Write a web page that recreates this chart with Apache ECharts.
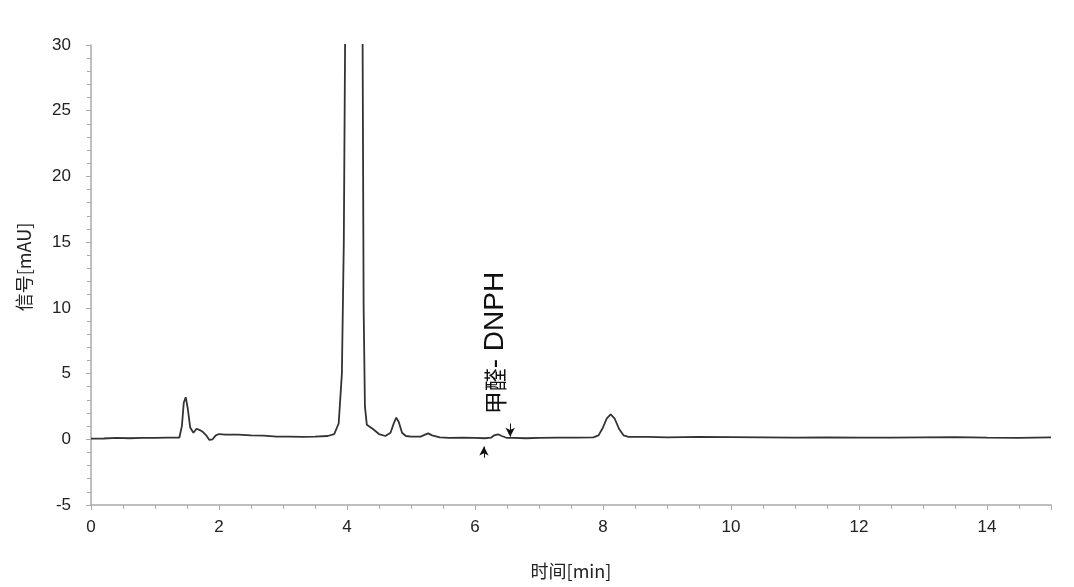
<!DOCTYPE html>
<html>
<head>
<meta charset="utf-8">
<script src="https://cdn.jsdelivr.net/npm/echarts@6/dist/echarts.min.js"></script>
<style>html,body{margin:0;padding:0;background:#fff}#c{width:1074px;height:587px}</style>
</head>
<body>
<div id="c"></div>
<script>
var times = [0,0.2,0.4,0.6,0.8,1.0,1.2,1.38,1.42,1.45,1.48,1.51,1.55,1.6,1.65,1.7,1.75,1.8,1.85,1.9,1.95,2.0,2.1,2.3,2.5,2.7,2.9,3.1,3.3,3.5,3.7,3.8,3.87,3.92,3.95,3.97,4.0,4.1,4.2,4.24,4.26,4.28,4.31,4.4,4.5,4.6,4.68,4.73,4.77,4.81,4.86,4.92,5.0,5.15,5.22,5.27,5.33,5.45,5.6,5.8,6.0,6.15,6.25,6.3,6.36,6.42,6.5,6.6,6.8,7.0,7.3,7.6,7.85,7.93,8.0,8.06,8.12,8.18,8.25,8.32,8.4,8.7,9.0,9.5,10,10.5,11,11.5,12,12.5,13,13.5,14,14.5,15];
var signal = [0.05,0.06,0.1,0.08,0.1,0.1,0.12,0.12,1.0,2.8,3.2,2.4,0.9,0.5,0.8,0.7,0.55,0.3,-0.05,0.0,0.3,0.4,0.35,0.35,0.3,0.28,0.2,0.2,0.18,0.2,0.25,0.4,1.2,5,15,30,70,150,80,35,10,2.5,1.1,0.8,0.4,0.25,0.5,1.2,1.65,1.3,0.5,0.25,0.2,0.2,0.35,0.45,0.3,0.15,0.1,0.12,0.1,0.08,0.12,0.3,0.38,0.25,0.1,0.1,0.08,0.1,0.12,0.12,0.15,0.3,0.9,1.6,1.9,1.6,0.8,0.3,0.18,0.18,0.15,0.18,0.17,0.15,0.13,0.15,0.13,0.12,0.15,0.17,0.12,0.1,0.15];
var xTicks = {min:0, max:15, interval:2};
var yTicks = {min:-5, max:30, interval:5};
var peakLabelCJK = '甲醛';
var peakLabelLatin = '- DNPH';
var labelPos = [6.31, 1.9];
var arrowStart = [[6.14,-1.4],[6.55,1.2]];
var arrowEnd = [[6.14,-0.55],[6.55,0.2]];

var chart = echarts.init(document.getElementById('c'));
var axisCol = '#aaaaaa';
var fnt = '"Liberation Sans", Arial, sans-serif';
chart.setOption({
  animation:false,
  grid:{left:91,right:23,top:45,bottom:82,outerBoundsMode:'none',containLabel:false},
  xAxis:{type:'value',min:xTicks.min,max:xTicks.max,interval:xTicks.interval,
    name:'时间[min]',nameLocation:'middle',nameGap:57,
    nameTextStyle:{fontSize:18,color:'#222',fontFamily:'"Noto Sans CJK SC", sans-serif'},
    axisLine:{show:true,onZero:false,lineStyle:{color:axisCol,width:1.5}},
    axisTick:{show:true,length:5,lineStyle:{color:axisCol}},
    minorTick:{show:true,splitNumber:4,length:4,lineStyle:{color:axisCol}},
    splitLine:{show:false},
    axisLabel:{fontSize:17,color:'#222',margin:14,fontFamily:fnt,showMaxLabel:false}},
  yAxis:{type:'value',min:yTicks.min,max:yTicks.max,interval:yTicks.interval,
    name:'信号[mAU]',nameLocation:'middle',nameGap:58,nameRotate:90,
    nameTextStyle:{fontSize:18,color:'#222',fontFamily:'"Noto Sans CJK SC", sans-serif',padding:[0,0,0,16]},
    axisLine:{show:true,onZero:false,lineStyle:{color:axisCol,width:1.5}},
    axisTick:{show:true,length:5,lineStyle:{color:axisCol}},
    minorTick:{show:true,splitNumber:5,length:4,lineStyle:{color:axisCol}},
    splitLine:{show:false},
    axisLabel:{fontSize:17,color:'#222',margin:20,fontFamily:fnt}},
  series:[{
    type:'line',showSymbol:false,symbol:'none',clip:true,
    data:times.map(function(t,i){return [t,signal[i]];}),
    lineStyle:{color:'#333333',width:1.8},
    markPoint:{symbol:'circle',symbolSize:0,
      data:[{coord:labelPos,label:{show:true,formatter:'{c|'+peakLabelCJK+'}{l|'+peakLabelLatin+'}',rotate:90,align:'left',verticalAlign:'middle',position:[0,0],
        color:'#111',
        rich:{c:{fontSize:23,color:'#111',fontFamily:'"Noto Sans CJK SC", sans-serif'},
              l:{fontSize:28,color:'#111',fontFamily:'"Liberation Sans Narrow", "Liberation Sans", Arial, sans-serif'}}}}]},
    markLine:{silent:true,symbol:['none','arrow'],symbolSize:[7,9],
      label:{show:false},lineStyle:{color:'#111',width:1,type:'solid'},
      data:arrowStart.map(function(s,i){return [{coord:s},{coord:arrowEnd[i]}];})}
  }]
});
</script>
</body>
</html>
